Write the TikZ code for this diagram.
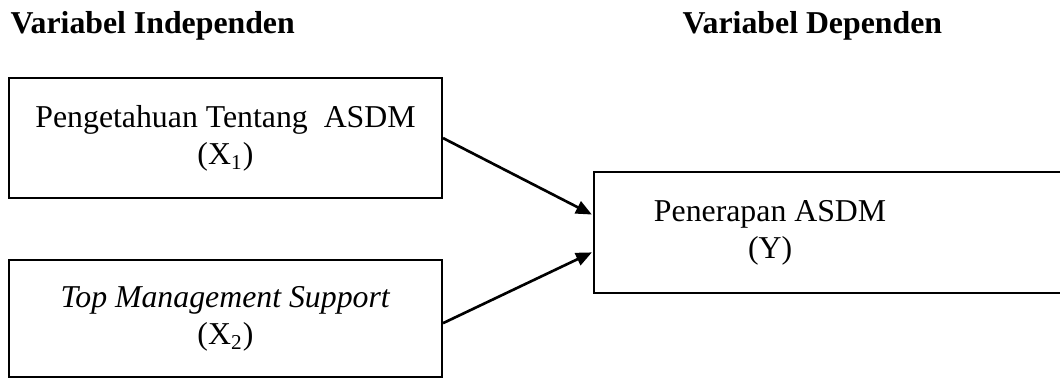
\documentclass[tikz,border=0pt]{standalone}
\usepackage{fontspec}
\setmainfont{Liberation Serif}
\usetikzlibrary{arrows.meta,positioning}
\tikzset{
    box/.style={rectangle, draw=black, line width=0.75pt,
        minimum width=163.4pt, minimum height=45.3pt, inner sep=0pt,
        align=center, font=\fontsize{12}{14}\selectfont},
    txt/.style={inner sep=0pt, align=center, font=\fontsize{12}{14}\selectfont},
    head/.style={anchor=base west, inner sep=0pt, font=\fontsize{12}{14}\selectfont\bfseries},
    arrow/.style={-{Triangle[length=6pt,width=5pt]}, line width=1pt, shorten >=0.3pt}
}

\begin{document}
\begin{tikzpicture}[x=1pt,y=1pt]
    \useasboundingbox (0,0) rectangle (400,-143);
    \node[head] (indep) at (3.8,-12.5) {Variabel Independen};
    \node[head] (dep) at (257.4,-12.5) {Variabel Dependen};
    \node[box] (x1) at (85.1,-52.1) {Pengetahuan Tentang~ ASDM\\(X\textsubscript{1})};
    \node[box, minimum height=44.3pt] (x2) [below=22.6pt of x1] {\textit{Top Management Support}\\(X\textsubscript{2})};
    \node[box, minimum width=180pt, minimum height=45.7pt] (y) at (314,-87.7) {};
    \node[txt] (ylab) at (290.6,-87.7) {Penerapan ASDM\\(Y)};
    \draw[arrow] (x1.east) -- ([yshift=6.6pt]y.west);
    \draw[arrow] ([yshift=-1.7pt]x2.east) -- ([yshift=-7.4pt]y.west);
\end{tikzpicture}
\end{document}
